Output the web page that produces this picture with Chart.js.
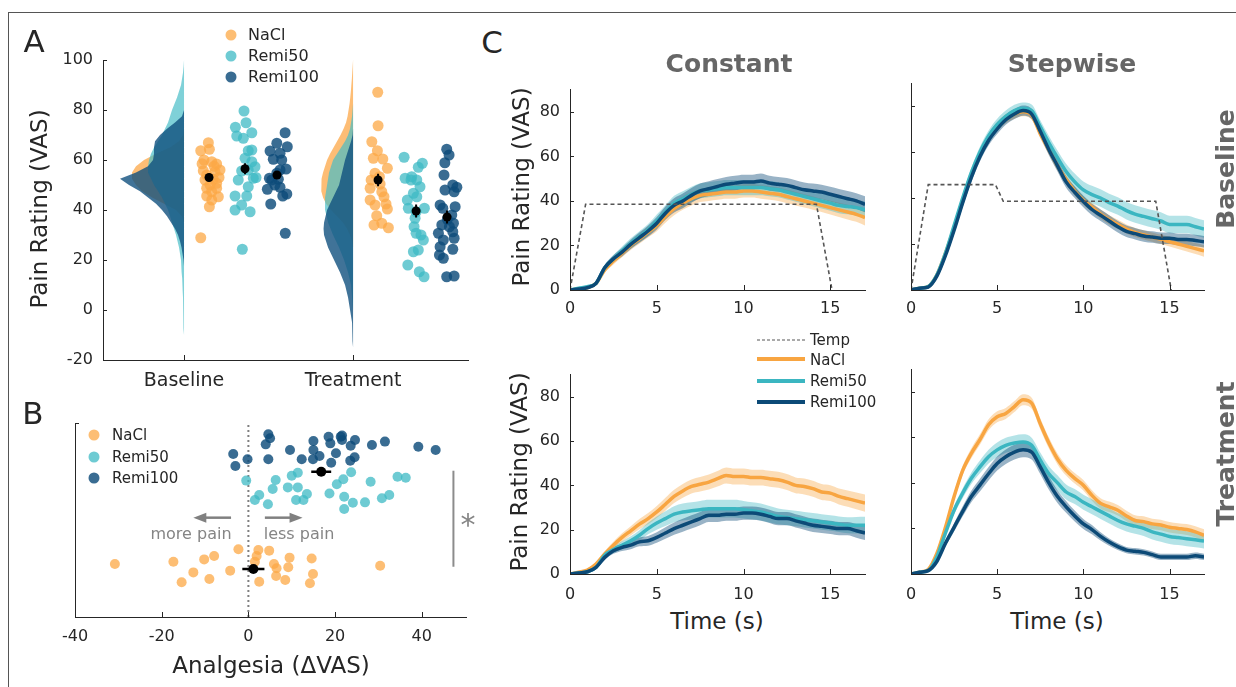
<!DOCTYPE html>
<html>
<head>
<meta charset="utf-8">
<title>Pain ratings</title>
<script src="https://cdn.jsdelivr.net/npm/chart.js@4.4.1/dist/chart.umd.min.js"></script>
<style>
html,body{margin:0;padding:0;background:#fff}
body{width:1236px;height:687px;position:relative;overflow:hidden;font-family:'DejaVu Sans',Verdana,sans-serif;color:#262626}
canvas{position:absolute}
.frame{position:absolute;left:8px;top:12px;width:1400px;height:800px;border-left:1.5px solid #555;border-top:1.5px solid #555}
.c{position:absolute;transform:translate(-50%,-50%);white-space:nowrap;line-height:1}
.v{position:absolute;transform:translate(-50%,-50%) rotate(-90deg);white-space:nowrap;line-height:1}
.l{position:absolute;transform:translateY(-50%);white-space:nowrap;line-height:1;font-size:15px}
.la{font-size:16px}
.dot{position:absolute;width:11px;height:11px;border-radius:50%;transform:translate(-50%,-50%)}
.seg{position:absolute;width:48px;transform:translateY(-50%)}
.panel{font-size:31px}
.ttl{font-weight:bold;font-size:25px;color:#666}
.ax{font-size:23px}
.gray{color:#858585}
</style>
</head>
<body>
<div class="frame"></div>
<canvas id="cA" width="480" height="400" style="left:0;top:0"></canvas>
<canvas id="cB" width="480" height="287" style="left:0;top:400px"></canvas>
<canvas id="cCB" width="380" height="250" style="left:490px;top:70px"></canvas>
<canvas id="cSB" width="356" height="250" style="left:880px;top:70px"></canvas>
<canvas id="cCT" width="380" height="250" style="left:490px;top:355px"></canvas>
<canvas id="cST" width="356" height="250" style="left:880px;top:355px"></canvas>

<div class="c panel" style="left:34px;top:41px">A</div>
<div class="c panel" style="left:33px;top:413px">B</div>
<div class="c panel" style="left:492px;top:42px">C</div>

<!-- Panel A legend -->
<div class="dot" style="left:231px;top:35px;background:rgba(252,168,70,0.75)"></div>
<div class="dot" style="left:231px;top:56px;background:rgba(62,186,196,0.75)"></div>
<div class="dot" style="left:231px;top:77px;background:rgba(14,76,122,0.82)"></div>
<div class="l la" style="left:248px;top:35px">NaCl</div>
<div class="l la" style="left:248px;top:56px">Remi50</div>
<div class="l la" style="left:248px;top:77px">Remi100</div>
<div class="v ax" style="left:39px;top:209px">Pain Rating (VAS)</div>

<!-- Panel B texts -->
<div class="dot" style="left:94px;top:435px;background:rgba(252,168,70,0.75)"></div>
<div class="dot" style="left:94px;top:457px;background:rgba(62,186,196,0.75)"></div>
<div class="dot" style="left:94px;top:478px;background:rgba(14,76,122,0.82)"></div>
<div class="l" style="left:112px;top:435px">NaCl</div>
<div class="l" style="left:112px;top:457px">Remi50</div>
<div class="l" style="left:112px;top:478px">Remi100</div>
<div class="c gray" style="left:191px;top:534px;font-size:16px">more pain</div>
<div class="c gray" style="left:299px;top:534px;font-size:16px">less pain</div>
<div class="c gray" style="left:468px;top:525px;font-size:30px">*</div>
<div class="c ax" style="left:271px;top:665px">Analgesia (ΔVAS)</div>

<!-- Panel C texts -->
<div class="c ttl" style="left:729px;top:63px">Constant</div>
<div class="c ttl" style="left:1072px;top:63px">Stepwise</div>
<div class="v ttl" style="left:1225px;top:169px">Baseline</div>
<div class="v ttl" style="left:1225px;top:454px">Treatment</div>
<div class="v ax" style="left:521px;top:187px">Pain Rating (VAS)</div>
<div class="v ax" style="left:519px;top:472px">Pain Rating (VAS)</div>
<div class="c ax" style="left:717px;top:621px">Time (s)</div>
<div class="c ax" style="left:1057px;top:621px">Time (s)</div>
<div class="seg" style="left:757px;top:340px;border-top:1.5px dashed #555"></div>
<div class="seg" style="left:757px;top:359px;height:4px;background:#F8A541"></div>
<div class="seg" style="left:757px;top:381px;height:4px;background:#3BB6C1"></div>
<div class="seg" style="left:757px;top:402px;height:4px;background:#0C4A77"></div>
<div class="l" style="left:810px;top:340px">Temp</div>
<div class="l" style="left:810px;top:360px">NaCl</div>
<div class="l" style="left:810px;top:381px">Remi50</div>
<div class="l" style="left:810px;top:402px">Remi100</div>

<script>
// ======================= DATA =======================
const GROUPS = ['NaCl', 'Remi50', 'Remi100'];
const A_CATS = ['Baseline', 'Treatment'];
const A_YTICKS = [-20, 0, 20, 40, 60, 80, 100];
const B_XTICKS = [-40, -20, 0, 20, 40];
const C_YTICKS = [0, 20, 40, 60, 80];
const C_XTICKS = [0, 5, 10, 15];

// Panel A: individual ratings (x = category position incl. jitter, y = VAS)
const A_BASE_NACL_X = [1.144,1.099,1.150,1.118,1.164,1.193,1.213,1.114,1.183,1.134,1.124,1.173,1.193,1.134,1.193,1.164,1.203,1.134,1.164,1.150,1.099,1.178,1.154,1.207,1.107];
const A_BASE_NACL_Y = [66.9,63.7,64.3,60,59.3,58.4,56,55.7,55.3,54,52,52.3,50.7,48.7,48.7,47.3,45.3,45.6,44,41.3,28.9,57.5,50,53,58.5];
const A_BASE_R50_X = [1.355,1.367,1.304,1.312,1.351,1.401,1.380,1.401,1.361,1.341,1.380,1.420,1.401,1.410,1.321,1.380,1.302,1.371,1.341,1.302,1.391,1.345,1.426];
const A_BASE_R50_Y = [79.6,74.9,73.1,69.6,68.7,70.9,63.7,64,60.7,55.6,56,57.3,59.3,52.7,52,49.3,45.6,45.6,42,40,39.3,24.3,53];
const A_BASE_R100_X = [1.598,1.549,1.509,1.568,1.611,1.528,1.578,1.604,1.549,1.505,1.558,1.538,1.493,1.568,1.608,1.584,1.513,1.599,1.519,1.568];
const A_BASE_R100_Y = [70.9,66.7,63.6,62.7,65.3,60.3,60,56.4,54.7,52.7,52.3,50,48.3,49.1,46.4,45.6,42.4,30.7,52,56];
const A_TREAT_NACL_X = [2.146,2.148,2.111,2.144,2.120,2.176,2.203,2.130,2.107,2.160,2.101,2.170,2.183,2.101,2.130,2.195,2.203,2.140,2.124,2.170,2.209,2.156];
const A_TREAT_NACL_Y = [87.1,73.7,67.3,63.7,60.7,60.4,56.7,54.7,52,50.4,48.7,47.3,45.3,44,42,42.4,40.4,37.7,34,34.7,32.9,53.3];
const A_TREAT_R50_X = [2.302,2.308,2.347,2.386,2.410,2.377,2.396,2.357,2.321,2.377,2.422,2.327,2.367,2.361,2.373,2.402,2.416,2.357,2.386,2.324,2.392,2.420,2.373,2.343];
const A_TREAT_R50_Y = [61.1,52.7,53.3,57.1,58.7,52,49.3,46.7,44,45.3,40.7,40.7,36.7,33.3,30.7,30,28,23.3,24,18,15.3,13.3,39.3,52];
const A_TREAT_R100_X = [2.554,2.568,2.543,2.538,2.590,2.614,2.544,2.598,2.515,2.531,2.604,2.584,2.558,2.594,2.525,2.570,2.505,2.590,2.598,2.534,2.515,2.590,2.511,2.534,2.554,2.598];
const A_TREAT_R100_Y = [64.3,62,58.9,54,50,49.1,48,47.3,42,40.7,41.3,38,36.3,34.7,34,33.3,30.7,31.3,28.7,28,25.3,24.3,22,20.7,13.3,13.6];
// Panel A: group means and SEM (order: Baseline NaCl, Remi50, Remi100, Treatment NaCl, Remi50, Remi100)
const A_MEAN_X = [1.148,1.361,1.550,2.148,2.373,2.556];
const A_MEAN_Y = [53,56.5,54,52,39.6,37.2];
const A_SEM = [1.5,2.2,1.6,2.5,2.6,2.6];
// Panel A: half-violin density profiles at VAS levels
const V_LEVELS = [-15,-12.5,-10,-7.5,-5,-2.5,0,2.5,5,7.5,10,12.5,15,17.5,20,22.5,25,27.5,30,32.5,35,37.5,40,42.5,45,47.5,50,52.5,55,57.5,60,62.5,65,67.5,70,72.5,75,77.5,80,82.5,85,87.5,90,92.5,95,97.5,100];
const V_BASE_NACL = [0,0,0,0,0,0,0,0,0,0, 0,0,0,0,0,0,0,0,0,0, 0,2,8,20,32,42,48,52,52,48, 40,28,14,5,1,0,0,0,0,0, 0,0,0,0,0,0,0];
const V_BASE_R50 = [0,0,0,0.2,0.4,0.6,0.8,0.9,1,1.2, 1.5,1.8,2.2,2.6,3,4,5,6.5,8,10, 12,14,16,19,22,26,30,33,36,36, 35,33,30,26,22,19,16,14,12,9.5, 7,5,3,2,1,0.4,0];
const V_BASE_R100 = [0,0,0,0,0,0,0,0,0,0, 0,0,0,0,0.5,1.5,2.5,4,6,9, 13,17,22,28,36,44,55,64,48,36, 31,30,30,29,24,17,9,2,0,0, 0,0,0,0,0,0,0];
const V_TREAT_NACL = [0,0,0,0,0,0,0,0,0,0, 0,0,0,0,0,0,0,1,3,6, 10,16,22,27,30,31.5,32,31.5,30,28, 26,23,19.5,16,12.5,9.5,7,5.5,4.5,3.5, 2.8,2.2,1.7,1.2,0.8,0.4,0];
const V_TREAT_R50 = [0,0,0,0,0,0,0,0.5,1,1.5, 2,3.5,5,7,9,11.5,14,17,20,22.5, 25,26.5,28,28,28,27,26,25,24,22, 20,16,12,8,5,3,2,1,0.5,0, 0,0,0,0,0,0,0];
const V_TREAT_R100 = [0,0.3,0.5,0.8,1,2,3,4,5,6.5, 8,10.5,13,16,19,22,25,27,29,29.5, 29,27.5,26,23,20,17,14,12.5,11,9.5, 8,6,4,2,0.5,0,0,0,0,0, 0,0,0,0,0,0,0];

// Panel B: analgesia (ΔVAS) per subject, y = jitter position within the group row
const B_NACL_X = [-30.8,-17.3,-12.7,-15.4,-10.2,-7.9,-9,-4.2,-2.3,2.3,4.8,1.9,1.5,2.5,5.9,6.5,6.4,8.5,9.5,9.2,14.6,14.9,14.2,30.4];
const B_NACL_Y = [2.73,2.85,2.30,1.79,2.97,3.14,1.96,2.39,3.49,3.45,3.42,3.14,2.85,1.82,2.73,2.51,2.11,1.91,3.06,2.56,3.02,2.22,1.74,2.64];
const B_R50_X = [-0.5,1.5,2.5,4.5,5.6,6.3,9.1,10.0,11.4,11.4,11.0,12.7,13.5,18.7,20.4,21.9,22.1,22.1,24.1,23.7,26.9,28.2,30.8,32.5,34.4,36.3];
const B_R50_Y = [7.03,6.03,6.29,5.81,6.6,7.06,6.68,7.28,7.44,6.68,6.03,6.03,6.34,6.37,6.84,7.1,6.2,5.57,5.89,7.46,5.91,6.97,6.12,6.29,7.23,7.18];
const B_R100_X = [4.6,5.0,4.0,-3.5,-3.0,-0.2,4.6,9.6,12.3,15.0,15.0,14.9,16.4,18.5,18.9,20.2,19.1,21.3,21.6,23.6,24.6,24.5,23.5,28.5,31.5,39.2,43.2,21.6];
const B_R100_Y = [9.42,9.21,8.9,8.4,7.78,8.13,8.13,8.61,8.13,9.07,8.61,8.13,8.3,9.29,8.95,8.44,7.95,9.29,9.12,8.83,9.12,8.23,8.06,8.87,9.04,8.78,8.61,9.35];
const B_MEAN_X = [1.15, 16.8];
const B_MEAN_Y = [2.47, 7.49];
const B_SEM = [2.55, 2.3];
const B_SIG_X = [47.3, 47.3];
const B_SIG_Y = [2.59, 7.54];

// Panel C: time courses (mean and SEM)
const TIME = [0,0.5,1,1.5,2,2.5,3,3.5,4,4.5,5,5.5,6,6.5,7,7.5,8,8.5,9,9.5,10,10.5,11,11.5,12,12.5,13,13.5,14,14.5,15,15.5,16,16.5,17];
const CB_NACL = [0,0.5,1,3,9,13,16.5,20,23,26,29,33,36.5,39,41,42.5,43,43.5,44,44,44.5,44.5,44,43.5,43,42,41,40,39,38,37,36,35,34,32.5];
const CB_R50  = [0,0.8,1.5,3,10,14,17.5,21,24,27,31,35,39,41,43,44.5,45,45.5,46,46,46,46,46,45.5,45,44,43,42,41,40,39,38,37.5,37,36];
const CB_R100 = [0,0.5,1,3,10,14,17,20.5,23.5,26.5,30,34.5,38,40,42.5,44.5,45.5,46.5,47.5,48,48.5,48.5,49,48,47.5,47,46,45,44.5,44,43,42,41,40,38.5];
const CB_NACL_SEM = [0,0.4,0.6,0.8,1.2,1.5,1.8,2,2.2,2.4,2.6,2.8,2.9,3,3,3,3,3,3,3,3,3,3,3,3,3,3,3,3,3,3.1,3.2,3.3,3.4,3.5];
const CB_R50_SEM  = [0,0.5,0.7,0.9,1.3,1.7,2,2.2,2.4,2.6,2.9,3.1,3.3,3.4,3.4,3.4,3.4,3.4,3.4,3.4,3.4,3.4,3.4,3.4,3.4,3.4,3.4,3.4,3.4,3.4,3.4,3.5,3.5,3.6,3.7];
const CB_R100_SEM = [0,0.4,0.6,0.8,1.2,1.6,1.9,2.1,2.3,2.5,2.8,3,3.2,3.3,3.3,3.3,3.3,3.3,3.3,3.3,3.3,3.3,3.3,3.3,3.3,3.3,3.3,3.3,3.3,3.3,3.4,3.4,3.5,3.5,3.6];

const SB_NACL = [0,0.8,1.5,6.5,16,27,39,50,59,66,71,74.5,76.5,77.5,76,68,61,54,48,43,39,36,33,30.5,28.5,26.5,25,24,23,22,21,20,19,18,17];
const SB_R50  = [0,0.8,1.5,6.5,16,28,40,51,60,67,72,75.5,78,79,78,71,64,57.5,51.5,47,43.5,41.5,40,38,36.5,34.5,33,32,31,30,28.5,28.5,28.5,27.5,26.5];
const SB_R100 = [0,0.8,1.3,6,15,26,38,49,58,65,70,74,76.5,78,76.5,69,61,54,47,42.5,38.5,35,32.5,30,27.5,25.5,24.5,23.5,23,22.5,22.5,22,22,21.5,21];
const SB_NACL_SEM = [0,0.4,0.6,0.9,1.3,1.6,1.8,2,2,2,2,2,2,2,2,2,2,2,2,2,2,2,2,2,2,2,2,2,2,2,2.1,2.2,2.3,2.4,2.5];
const SB_R50_SEM  = [0,0.4,0.6,0.9,1.3,1.7,2,2.2,2.3,2.4,2.5,2.5,2.5,2.5,2.6,2.8,3,3.2,3.4,3.6,3.7,3.8,3.8,3.8,3.8,3.8,3.8,3.8,3.8,3.8,3.8,3.8,3.8,3.8,3.8];
const SB_R100_SEM = [0,0.4,0.6,0.9,1.3,1.6,1.9,2,2.1,2.2,2.2,2.2,2.2,2.2,2.2,2.3,2.4,2.5,2.5,2.5,2.5,2.5,2.5,2.5,2.5,2.5,2.5,2.5,2.5,2.5,2.5,2.5,2.5,2.5,2.5];

const CT_NACL = [0,0.8,1.8,4.5,9,13,16.5,19.5,22.5,25,28,31.5,35,37.5,39.5,40.5,41.5,43,44.5,44,44,43.5,43.5,43,42.5,41.5,40,39.5,38.5,37,36.5,35,34,33,32];
const CT_R50  = [0,0.5,1,3,8.5,11,13,15,17.5,20.5,23,25,27,28,28.5,29,29.5,29.5,29.5,29.5,29,28.5,28,27,26,25.5,25,24.5,24,23.5,23,22.5,22,22,22];
const CT_R100 = [0,0.5,1,3,7.5,10.5,12,13,14.5,15,16.5,18.5,20.5,22,23.5,25,26.5,26.5,27,27,27.5,27.5,27,26,25,25,24,23,22,21.5,21,20.5,20.5,19.5,18.5];
const CT_NACL_SEM = [0,0.4,0.6,0.9,1.3,1.6,1.9,2.1,2.3,2.5,2.7,2.9,3,3.1,3.2,3.3,3.4,3.5,3.6,3.6,3.6,3.6,3.6,3.6,3.6,3.6,3.6,3.6,3.6,3.6,3.6,3.6,3.7,3.8,3.9];
const CT_R50_SEM  = [0,0.3,0.5,0.8,1.2,1.5,1.8,2,2.3,2.6,3,3.3,3.6,3.8,3.9,4,4,4,4,4,4,3.9,3.8,3.7,3.6,3.5,3.5,3.5,3.5,3.5,3.5,3.5,3.6,3.7,3.8];
const CT_R100_SEM = [0,0.3,0.5,0.8,1.1,1.4,1.6,1.8,2,2.2,2.4,2.6,2.8,2.9,3,3,3,3,3,3,3,3,3,3,3,3,3,3,3,3,3,3,3,3.1,3.2];

const ST_NACL = [0,0.8,2,9,20.5,34,45.5,53,59,65.5,69,70.5,73.5,76.5,75,66,57.5,50.5,45.5,42,39,34.5,31,29.5,28,25.5,23.5,23,22,21.5,20.5,20,19.5,18.5,17];
const ST_R50  = [0,0.8,1.5,7.5,18,28,35.5,42,47,51.5,54.5,56.5,57.5,58,56.5,50,44,40,36,34,31.5,29.5,27.5,25.5,23.5,22,21,20,18.5,17.5,16.5,16,15.5,15,14.5];
const ST_R100 = [0,0.8,1.5,5.5,13.5,20.5,27.5,34,39,44,48.5,51.5,53.5,54.5,53.5,47,40,34,29.5,25.5,22,19.5,16.5,14,12,10.5,10,9.5,8.5,7.5,7.5,7.5,7.5,8,7.5];
const ST_NACL_SEM = [0,0.4,0.6,1,1.4,1.7,2,2.2,2.3,2.4,2.4,2.4,2.4,2.4,2.4,2.4,2.4,2.4,2.3,2.3,2.3,2.3,2.3,2.3,2.3,2.3,2.3,2.3,2.3,2.3,2.3,2.3,2.4,2.5,2.6];
const ST_R50_SEM  = [0,0.4,0.6,1,1.4,1.8,2.2,2.5,2.8,3,3.2,3.3,3.3,3.3,3.3,3.3,3.3,3.3,3.3,3.3,3.3,3.3,3.3,3.3,3.3,3.3,3.3,3.3,3.3,3.3,3.3,3.3,3.3,3.3,3.3];
const ST_R100_SEM = [0,0.4,0.6,1,1.4,1.8,2.2,2.5,2.8,3,3.1,3.2,3.2,3.2,3.2,3.1,3,2.8,2.6,2.4,2.2,2,1.8,1.6,1.5,1.4,1.4,1.4,1.4,1.4,1.4,1.4,1.4,1.4,1.4];

// Temperature profiles
const TEMP_CONST_T = [0, 0.9, 14.2, 15.1];
const TEMP_CONST_V = [0, 38.5, 38.5, 0];
const TEMP_STEP_T = [0, 1, 4.9, 5.35, 14.2, 15.1];
const TEMP_STEP_V = [0, 45.8, 45.8, 38.6, 38.6, 0];

// ======================= STYLE / HELPERS =======================
const AXIS = '#262626';
const FONT = "'DejaVu Sans', Verdana, sans-serif";
Chart.defaults.font.family = FONT;
Chart.defaults.color = AXIS;
Chart.defaults.animation = false;

const COL = {
  nacl: {line:'#F8A541', band:'rgba(248,165,65,0.38)', dot:'rgba(252,168,70,0.75)', viol:'rgba(252,172,82,0.8)'},
  r50:  {line:'#3BB6C1', band:'rgba(59,182,193,0.38)', dot:'rgba(62,186,196,0.75)', viol:'rgba(72,190,200,0.7)'},
  r100: {line:'#0C4A77', band:'rgba(12,74,119,0.42)', dot:'rgba(14,76,122,0.82)', viol:'rgba(16,80,126,0.8)'}
};
const DENS_TO_X = 1 / 169; // violin density reading -> category units

const inTicks = {
  id: 'inTicks',
  afterDatasetsDraw(chart, args, opts) {
    const ctx = chart.ctx, a = chart.chartArea;
    const xs = chart.scales.x, ys = chart.scales.y;
    ctx.save();
    ctx.strokeStyle = AXIS; ctx.lineWidth = 1; ctx.beginPath();
    if (opts.x) xs.ticks.forEach(t => { const p = Math.round(xs.getPixelForValue(t.value)) + 0.5; ctx.moveTo(p, a.bottom); ctx.lineTo(p, a.bottom - opts.x); });
    if (opts.y) ys.ticks.forEach(t => { const p = Math.round(ys.getPixelForValue(t.value)) + 0.5; ctx.moveTo(a.left, p); ctx.lineTo(a.left + opts.y, p); });
    ctx.stroke(); ctx.restore();
  }
};

const arrowPlugin = {
  id: 'arrows',
  afterDatasetsDraw(chart, args, opts) {
    if (!opts.list) return;
    const ctx = chart.ctx, xs = chart.scales.x, ys = chart.scales.y;
    ctx.save();
    ctx.strokeStyle = opts.color; ctx.fillStyle = opts.color; ctx.lineWidth = 2.5;
    opts.list.forEach(ar => {
      const x0 = xs.getPixelForValue(ar.from), x1 = xs.getPixelForValue(ar.to), y = ys.getPixelForValue(ar.y);
      const dir = Math.sign(x1 - x0), head = 13;
      ctx.beginPath(); ctx.moveTo(x0, y); ctx.lineTo(x1 - dir * head * 0.8, y); ctx.stroke();
      ctx.beginPath(); ctx.moveTo(x1, y); ctx.lineTo(x1 - dir * head, y - 5); ctx.lineTo(x1 - dir * head, y + 5); ctx.closePath(); ctx.fill();
    });
    ctx.restore();
  }
};

function axis({min, max, ticks, size, pad, show = true, fontSize = 16, labels = null}) {
  return {
    type: 'linear', min, max,
    afterBuildTicks: s => { s.ticks = ticks.map(v => ({value: v})); },
    afterFit: s => { if (s.isHorizontal()) s.height = size; else s.width = size; },
    grid: {display: false, drawTicks: false},
    border: {display: true, color: AXIS, width: 1},
    ticks: {display: show, padding: pad, color: AXIS, font: {size: fontSize}, maxRotation: 0, autoSkip: false,
            callback: labels ? (v => labels[v - 1]) : (v => String(v))}
  };
}

function baseOpts(padding, scales, pluginOpts) {
  return {
    responsive: false, animation: false, events: [],
    layout: {padding},
    plugins: Object.assign({legend: {display: false}, tooltip: {enabled: false}}, pluginOpts),
    scales
  };
}

function pts(xs, ys) { return xs.map((x, i) => ({x, y: ys[i]})); }

function violin(cat, widths, color, order) {
  let first = widths.findIndex(w => w > 0);
  let last = widths.length - 1 - widths.slice().reverse().findIndex(w => w > 0);
  const i0 = Math.max(first - 1, 0), i1 = Math.min(last + 1, widths.length - 1);
  const d = [];
  for (let i = i1; i >= i0; i--) d.push({x: cat - widths[i] * DENS_TO_X, y: V_LEVELS[i]});
  d.push({x: cat, y: V_LEVELS[i0]});
  d.push({x: cat, y: V_LEVELS[i1]});
  return {data: d, showLine: true, fill: 'shape', backgroundColor: color, borderWidth: 0, pointRadius: 0, order};
}

function scatterSet(xs, ys, color, r, order) {
  return {data: pts(xs, ys), showLine: false, pointRadius: r, pointBorderWidth: 0, pointBackgroundColor: color, backgroundColor: color, borderColor: color, order};
}

// ======================= PANEL A =======================
const A_GROUP_PTS = [
  [A_BASE_NACL_X, A_BASE_NACL_Y, COL.nacl], [A_BASE_R50_X, A_BASE_R50_Y, COL.r50], [A_BASE_R100_X, A_BASE_R100_Y, COL.r100],
  [A_TREAT_NACL_X, A_TREAT_NACL_Y, COL.nacl], [A_TREAT_R50_X, A_TREAT_R50_Y, COL.r50], [A_TREAT_R100_X, A_TREAT_R100_Y, COL.r100]
];
const aErr = [];
A_MEAN_X.forEach((x, i) => { aErr.push({x, y: A_MEAN_Y[i] - A_SEM[i]}, {x, y: A_MEAN_Y[i] + A_SEM[i]}, {x, y: null}); });
const aSets = [
  scatterSet(A_MEAN_X, A_MEAN_Y, '#000', 4.5, 0),
  {data: aErr, showLine: true, borderColor: '#000', borderWidth: 2, pointRadius: 0, spanGaps: false, order: 1},
  ...A_GROUP_PTS.map(g => scatterSet(g[0], g[1], g[2].dot, 5.5, 2)),
  violin(1, V_BASE_R100, COL.r100.viol, 3), violin(1, V_BASE_R50, COL.r50.viol, 4), violin(1, V_BASE_NACL, COL.nacl.viol, 5),
  violin(2, V_TREAT_R100, COL.r100.viol, 3), violin(2, V_TREAT_R50, COL.r50.viol, 4), violin(2, V_TREAT_NACL, COL.nacl.viol, 5)
];
new Chart(document.getElementById('cA'), {
  type: 'line',
  data: {datasets: aSets},
  options: baseOpts({top: 60, right: 12, left: 0, bottom: 0}, {
    x: axis({min: 0.5207, max: 2.68, ticks: [1, 2], size: 40, pad: 10, fontSize: 19, labels: A_CATS}),
    y: axis({min: -20, max: 100, ticks: A_YTICKS, size: 103, pad: 10})
  }, {inTicks: {x: 5, y: 4}}),
  plugins: [inTicks]
});

// ======================= PANEL B =======================
const bErr = [];
B_MEAN_X.forEach((x, i) => { bErr.push({x: x - B_SEM[i], y: B_MEAN_Y[i]}, {x: x + B_SEM[i], y: B_MEAN_Y[i]}, {x, y: null}); });
const bSets = [
  scatterSet(B_MEAN_X, B_MEAN_Y, '#000', 5, 0),
  {data: bErr, showLine: true, borderColor: '#000', borderWidth: 2.5, pointRadius: 0, spanGaps: false, order: 1},
  scatterSet(B_NACL_X, B_NACL_Y, COL.nacl.dot, 5, 2),
  scatterSet(B_R50_X, B_R50_Y, COL.r50.dot, 5, 2),
  scatterSet(B_R100_X, B_R100_Y, COL.r100.dot, 5, 2),
  {data: [{x: 0, y: 0}, {x: 0, y: 10}], showLine: true, borderColor: '#808080', borderWidth: 2, borderDash: [2, 3], pointRadius: 0, order: 3},
  {data: pts(B_SIG_X, B_SIG_Y), showLine: true, borderColor: '#8c8c8c', borderWidth: 2, pointRadius: 0, order: 3}
];
new Chart(document.getElementById('cB'), {
  type: 'line',
  data: {datasets: bSets},
  options: baseOpts({top: 23, right: 14, left: 0, bottom: 0}, {
    x: axis({min: -40, max: 50.2, ticks: B_XTICKS, size: 70, pad: 10}),
    y: axis({min: 0, max: 10, ticks: [10], size: 75, pad: 10, show: false})
  }, {inTicks: {x: 5, y: 4}, arrows: {color: '#808080', list: [{from: -4, to: -12.7, y: 5.12}, {from: 3.8, to: 12.5, y: 5.12}]}}),
  plugins: [inTicks, arrowPlugin]
});

// ======================= PANEL C =======================
function cSets(series, temp) {
  const cols = [COL.nacl, COL.r50, COL.r100];
  const ds = [];
  if (temp) ds.push({data: pts(temp[0], temp[1]), showLine: true, borderColor: '#555', borderWidth: 1.6, borderDash: [4, 3], pointRadius: 0, order: 0});
  series.forEach((s, g) => {
    const [m, e] = s;
    const bandOrder = 2 + (2 - g) * 0.1; // darker group drawn above
    ds.push({data: TIME.map((t, i) => ({x: t, y: m[i] + e[i]})), showLine: true, borderWidth: 0, pointRadius: 0, fill: false, cubicInterpolationMode: 'monotone', order: bandOrder});
    ds.push({data: TIME.map((t, i) => ({x: t, y: m[i] - e[i]})), showLine: true, borderWidth: 0, pointRadius: 0, fill: '-1', backgroundColor: cols[g].band, cubicInterpolationMode: 'monotone', order: bandOrder});
  });
  series.forEach((s, g) => {
    ds.push({data: TIME.map((t, i) => ({x: t, y: s[0][i]})), showLine: true, borderColor: cols[g].line, borderWidth: 3.5, pointRadius: 0, cubicInterpolationMode: 'monotone', order: 1 + (2 - g) * 0.1});
  });
  return ds;
}
function cChart(id, series, temp, left, padTop, padRight, yW, xH, xPad) {
  new Chart(document.getElementById(id), {
    type: 'line',
    data: {datasets: cSets(series, temp)},
    options: baseOpts({top: padTop, right: padRight, left: 0, bottom: 0}, {
      x: axis({min: 0, max: 17, ticks: C_XTICKS, size: xH, pad: xPad}),
      y: axis({min: 0, max: 90, ticks: C_YTICKS, size: yW, pad: 10, show: left})
    }, {inTicks: {x: 5, y: 4}}),
    plugins: [inTicks]
  });
}
cChart('cCB', [[CB_NACL, CB_NACL_SEM], [CB_R50, CB_R50_SEM], [CB_R100, CB_R100_SEM]], [TEMP_CONST_T, TEMP_CONST_V], true, 13, 5, 80, 30, 9);
cChart('cSB', [[SB_NACL, SB_NACL_SEM], [SB_R50, SB_R50_SEM], [SB_R100, SB_R100_SEM]], [TEMP_STEP_T, TEMP_STEP_V], false, 13, 32, 31, 30, 9);
cChart('cCT', [[CT_NACL, CT_NACL_SEM], [CT_R50, CT_R50_SEM], [CT_R100, CT_R100_SEM]], null, true, 14, 5, 80, 31, 11);
cChart('cST', [[ST_NACL, ST_NACL_SEM], [ST_R50, ST_R50_SEM], [ST_R100, ST_R100_SEM]], null, false, 14, 32, 31, 31, 11);
</script>
</body>
</html>
